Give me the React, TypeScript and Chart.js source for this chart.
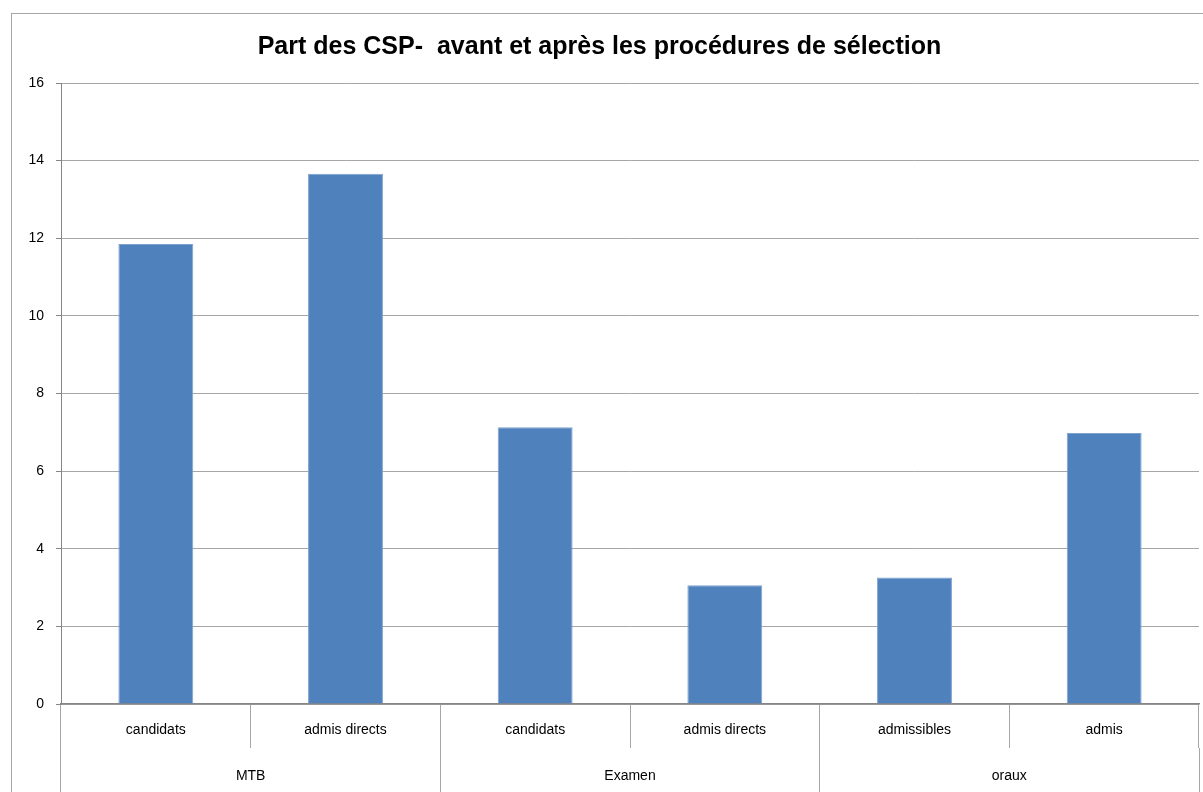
import React, { useEffect, useRef } from "react";
import { Chart, registerables } from "chart.js";

Chart.register(...registerables);

const categories = ["candidats", "admis directs", "candidats", "admis directs", "admissibles", "admis"];
const groups = ["MTB", "Examen", "oraux"];
const values = [11.85, 13.66, 7.13, 3.06, 3.26, 6.98];
const yTicks = [0, 2, 4, 6, 8, 10, 12, 14, 16];
const title = "Part des CSP-  avant et après les procédures de sélection";

const FONT = "'Liberation Sans', Arial, sans-serif";

export default function App() {
  const ref = useRef<HTMLCanvasElement | null>(null);

  useEffect(() => {
    if (!ref.current) return;
    const chart = new Chart(ref.current, {
      type: "bar",
      data: {
        labels: categories,
        datasets: [
          {
            data: values,
            backgroundColor: "#4f81bd",
            borderColor: "#7ea2cf",
            borderWidth: 1,
            barPercentage: 0.395,
            categoryPercentage: 1,
            xAxisID: "x",
          },
        ],
      },
      options: {
        responsive: false,
        animation: false,
        devicePixelRatio: 1,
        layout: { padding: { left: 0, right: 4, top: 0, bottom: 0 } },
        plugins: {
          legend: { display: false },
          tooltip: { enabled: false },
          title: {
            display: true,
            text: title,
            color: "#000",
            font: { family: FONT, size: 25, weight: "bold", lineHeight: 1.2 },
            padding: { top: 32, bottom: 21 },
          },
        },
        scales: {
          y: {
            min: 0,
            max: 16,
            afterBuildTicks: (s: any) => {
              s.ticks = yTicks.map((v) => ({ value: v }));
            },
            afterFit: (s: any) => {
              s.width = 61;
            },
            grid: {
              color: "#a6a6a6",
              tickColor: "#868686",
              tickLength: 5,
              lineWidth: 1,
            },
            border: { display: true, color: "#868686", width: 1 },
            ticks: {
              color: "#000",
              padding: 12,
              font: { family: FONT, size: 14 },
            },
          },
          x: {
            type: "category",
            position: "bottom",
            offset: true,
            afterFit: (s: any) => {
              s.height = 44;
            },
            grid: {
              offset: true,
              drawOnChartArea: false,
              drawTicks: true,
              tickLength: 44,
              color: "#a6a6a6",
              tickColor: "#a6a6a6",
            },
            border: { display: true, color: "#868686", width: 1.5 },
            ticks: {
              color: "#000",
              padding: -26.5,
              maxRotation: 0,
              autoSkip: false,
              font: { family: FONT, size: 14 },
            },
          },
          x2: {
            type: "category",
            position: "bottom",
            labels: groups,
            offset: true,
            afterFit: (s: any) => {
              s.height = 44;
            },
            grid: {
              offset: true,
              drawOnChartArea: false,
              drawTicks: true,
              tickLength: 44,
              color: "#a6a6a6",
              tickColor: "#a6a6a6",
            },
            border: { display: false },
            ticks: {
              color: "#000",
              padding: -24.5,
              maxRotation: 0,
              autoSkip: false,
              font: { family: FONT, size: 14 },
            },
          },
        },
      },
    });
    return () => chart.destroy();
  }, []);

  return (
    <div
      style={{
        position: "fixed",
        left: 0,
        top: 0,
        width: 1203,
        height: 792,
        background: "#fff",
        overflow: "hidden",
      }}
    >
      <div
        style={{
          position: "absolute",
          left: 11,
          top: 13,
          width: 1210,
          height: 800,
          border: "1px solid #a6a6a6",
          boxSizing: "border-box",
        }}
      />
      <canvas
        ref={ref}
        width={1203}
        height={792}
        style={{ position: "absolute", left: 0, top: 0, width: 1203, height: 792 }}
      />
    </div>
  );
}
